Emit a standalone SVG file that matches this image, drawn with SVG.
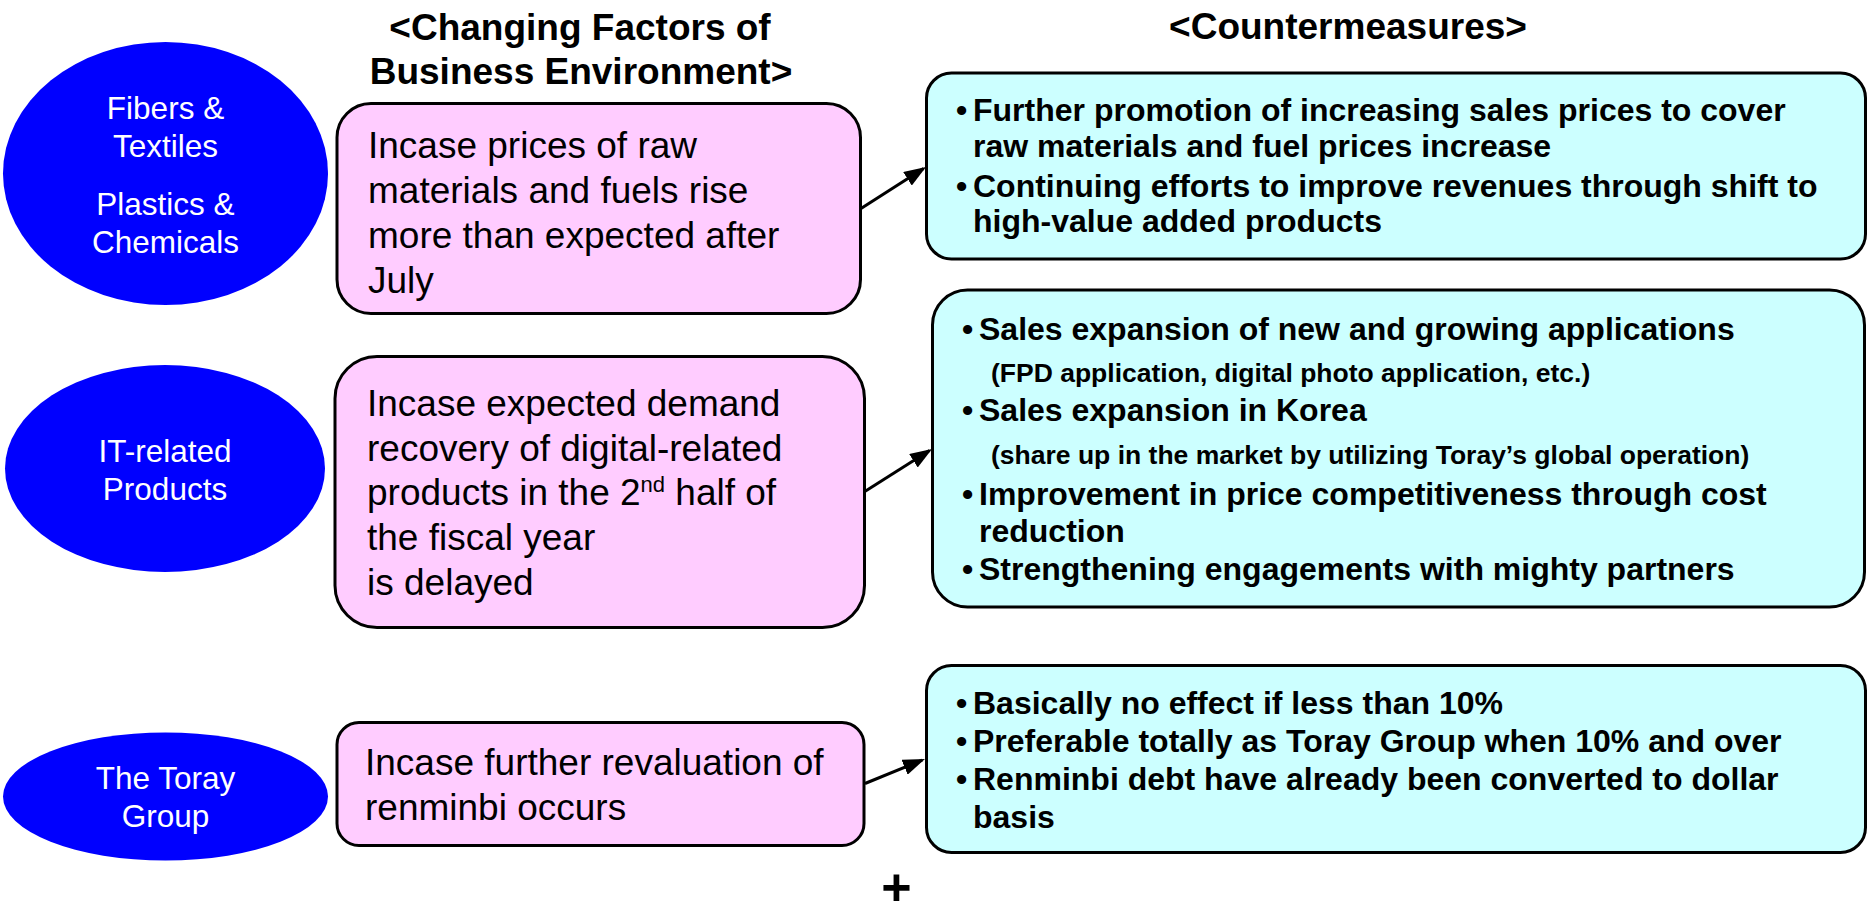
<svg xmlns="http://www.w3.org/2000/svg" width="1871" height="903" viewBox="0 0 1871 903">
<style>
text{font-family:"Liberation Sans",Arial,Helvetica,sans-serif}
.ell{fill:#0000FF;stroke:none}
.elt{fill:#FFFFFF;font-size:31.5px;text-anchor:middle}
.head{fill:#000;font-size:37px;font-weight:bold;text-anchor:middle}
.pink{fill:#FFCCFF;stroke:#000;stroke-width:3}
.cyan{fill:#CCFFFF;stroke:#000;stroke-width:3}
.pt{fill:#000;font-size:37px}
.ct{fill:#000;font-size:32px;font-weight:bold}
.cs{fill:#000;font-size:26.5px;font-weight:bold}
.conn{stroke:#000;stroke-width:3;fill:none;marker-end:url(#ah)}
</style>
<defs>
<marker id="ah" viewBox="0 0 22 16" refX="19" refY="8" markerWidth="22" markerHeight="16" markerUnits="userSpaceOnUse" orient="auto">
<path d="M0,0 L22,8 L0,16 z" fill="#000"/>
</marker>
</defs>
<rect width="1871" height="903" fill="#FFFFFF"/>

<g id="headings">
<text class="head" x="580" y="40">&lt;Changing Factors of</text>
<text class="head" x="581" y="84">Business Environment&gt;</text>
<text class="head" x="1348" y="39">&lt;Countermeasures&gt;</text>
</g>

<g id="seg-fibers">
<ellipse class="ell" cx="165.5" cy="173.5" rx="162.5" ry="131.5"/>
<text class="elt" x="165.5" y="119">Fibers &amp;</text>
<text class="elt" x="165.5" y="157">Textiles</text>
<text class="elt" x="165.5" y="215">Plastics &amp;</text>
<text class="elt" x="165.5" y="253">Chemicals</text>
</g>

<g id="seg-it">
<ellipse class="ell" cx="165" cy="468.5" rx="160" ry="103.5"/>
<text class="elt" x="165" y="461.5">IT-related</text>
<text class="elt" x="165" y="499.5">Products</text>
</g>

<g id="seg-group">
<ellipse class="ell" cx="165.5" cy="796.5" rx="162.5" ry="64"/>
<text class="elt" x="165.5" y="789">The Toray</text>
<text class="elt" x="165.5" y="826.5">Group</text>
</g>

<g id="factor-1">
<rect class="pink" x="337" y="103.5" width="523.5" height="210" rx="34" ry="34"/>
<text class="pt" x="368" y="158">Incase prices of raw</text>
<text class="pt" x="368" y="203">materials and fuels rise</text>
<text class="pt" x="368" y="248">more than expected after</text>
<text class="pt" x="368" y="293">July</text>
</g>

<g id="factor-2">
<rect class="pink" x="335" y="356.5" width="529.5" height="271" rx="42" ry="42"/>
<text class="pt" x="367" y="416">Incase expected demand</text>
<text class="pt" x="367" y="461">recovery of digital-related</text>
<text class="pt" x="367" y="505">products in the 2<tspan font-size="22" dy="-13">nd</tspan><tspan dy="13"> half of</tspan></text>
<text class="pt" x="367" y="550">the fiscal year</text>
<text class="pt" x="367" y="595">is delayed</text>
</g>

<g id="factor-3">
<rect class="pink" x="337" y="722.5" width="527" height="123" rx="22" ry="22"/>
<text class="pt" x="365" y="775">Incase further revaluation of</text>
<text class="pt" x="365" y="820">renminbi occurs</text>
</g>

<g id="measure-1">
<rect class="cyan" x="926.5" y="73" width="939" height="186" rx="25" ry="25"/>
<text class="ct" x="956" y="120.5">•</text>
<text class="ct" x="973" y="120.5">Further promotion of increasing sales prices to cover</text>
<text class="ct" x="973" y="156.5">raw materials and fuel prices increase</text>
<text class="ct" x="956" y="196.5">•</text>
<text class="ct" x="973" y="196.5">Continuing efforts to improve revenues through shift to</text>
<text class="ct" x="973" y="232">high-value added products</text>
</g>

<g id="measure-2">
<rect class="cyan" x="932.5" y="290" width="932" height="317" rx="35" ry="35"/>
<text class="ct" x="962" y="339.5">•</text>
<text class="ct" x="979" y="339.5">Sales expansion of new and growing applications</text>
<text class="cs" x="991" y="382">(FPD application, digital photo application, etc.)</text>
<text class="ct" x="962" y="421">•</text>
<text class="ct" x="979" y="421">Sales expansion in Korea</text>
<text class="cs" x="991" y="464">(share up in the market by utilizing Toray’s global operation)</text>
<text class="ct" x="962" y="505">•</text>
<text class="ct" x="979" y="505">Improvement in price competitiveness through cost</text>
<text class="ct" x="979" y="542">reduction</text>
<text class="ct" x="962" y="580">•</text>
<text class="ct" x="979" y="580">Strengthening engagements with mighty partners</text>
</g>

<g id="measure-3">
<rect class="cyan" x="926.5" y="665.5" width="939" height="187" rx="25" ry="25"/>
<text class="ct" x="956" y="713.5">•</text>
<text class="ct" x="973" y="713.5">Basically no effect if less than 10%</text>
<text class="ct" x="956" y="752">•</text>
<text class="ct" x="973" y="752">Preferable totally as Toray Group when 10% and over</text>
<text class="ct" x="956" y="790">•</text>
<text class="ct" x="973" y="790">Renminbi debt have already been converted to dollar</text>
<text class="ct" x="973" y="827.5">basis</text>
</g>

<g id="connectors">
<line class="conn" x1="861" y1="208.5" x2="923.5" y2="168.6"/>
<line class="conn" x1="864" y1="492" x2="929.5" y2="450.6"/>
<line class="conn" x1="865" y1="783.5" x2="922.2" y2="760.1"/>
</g>

<g id="plus">
<text x="896.5" y="905" font-size="52" font-weight="bold" text-anchor="middle" fill="#000">+</text>
</g>
</svg>
